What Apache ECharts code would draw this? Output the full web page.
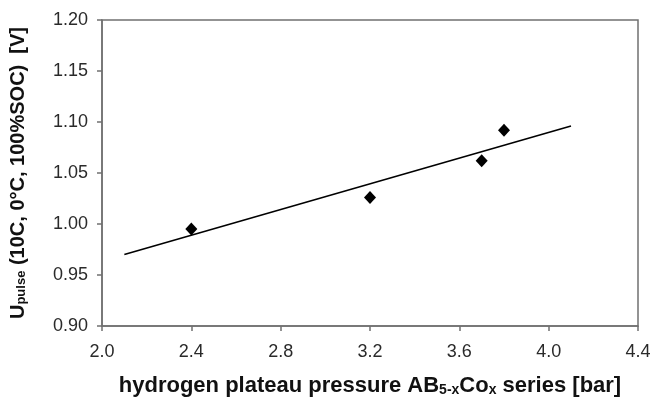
<!DOCTYPE html>
<html>
<head>
<meta charset="utf-8">
<script src="https://cdn.jsdelivr.net/npm/echarts@6/dist/echarts.min.js"></script>
<style>html,body{margin:0;padding:0;background:#fff}#c{width:653px;height:399px}</style>
</head>
<body>
<div id="c"></div>
<script>
// Data
const pressure = [2.4, 3.2, 3.7, 3.8];
const upulse = [0.995, 1.026, 1.062, 1.092];
const trendX = [2.1, 4.1];
const trendY = [0.970, 1.096];
const xTicks = [2.0, 2.4, 2.8, 3.2, 3.6, 4.0, 4.4];
const yTicks = [0.90, 0.95, 1.00, 1.05, 1.10, 1.15, 1.20];

const chart = echarts.init(document.getElementById('c'), null, {renderer: 'canvas'});
const font = 'Liberation Sans, Arial, sans-serif';
const axisLineStyle = {color: '#707070', width: 1.5};
const subX = {fontSize: 14, fontWeight: 'bold', fontFamily: font, color: '#111', verticalAlign: 'bottom', padding: [8, 0, 0, 0]};
const subY = {fontSize: 13, fontWeight: 'bold', fontFamily: font, color: '#111', verticalAlign: 'bottom', padding: [7, 0, 0, 0]};
chart.setOption({
  animation: false,
  backgroundColor: '#fff',
  grid: {left: 102, top: 20, right: 15, bottom: 73, show: true, borderColor: '#707070', borderWidth: 1.5, outerBoundsMode: 'none', containLabel: false},
  xAxis: {
    type: 'value', min: xTicks[0], max: xTicks[xTicks.length - 1], interval: 0.4,
    axisLine: {show: true, lineStyle: axisLineStyle},
    axisTick: {show: true, inside: false, length: 5, lineStyle: axisLineStyle},
    splitLine: {show: false},
    axisLabel: {fontSize: 18, fontFamily: font, color: '#2a2a2a', margin: 17, formatter: v => v.toFixed(1)},
    name: 'hydrogen plateau pressure AB{sub|5-x}Co{sub|x} series [bar]',
    nameLocation: 'middle', nameGap: 49,
    nameTextStyle: {fontSize: 22, fontWeight: 'bold', fontFamily: font, color: '#111', rich: {sub: subX}}
  },
  yAxis: {
    type: 'value', min: yTicks[0], max: yTicks[yTicks.length - 1], interval: 0.05,
    axisLine: {show: true, lineStyle: axisLineStyle},
    axisTick: {show: true, inside: false, length: 5, lineStyle: axisLineStyle},
    splitLine: {show: false},
    axisLabel: {fontSize: 18, fontFamily: font, color: '#2a2a2a', margin: 14, formatter: v => v.toFixed(2)},
    name: 'U{sub|pulse} (10C, 0°C, 100%SOC)  [V]',
    nameLocation: 'middle', nameGap: 74, nameRotate: 90,
    nameTextStyle: {fontSize: 20, fontWeight: 'bold', fontFamily: font, color: '#111', rich: {sub: subY}}
  },
  series: [
    {
      type: 'line', data: trendX.map((x, i) => [x, trendY[i]]),
      symbol: 'none', lineStyle: {color: '#000', width: 1.6}, z: 2
    },
    {
      type: 'scatter', data: pressure.map((x, i) => [x, upulse[i]]),
      symbol: 'diamond', symbolSize: [12, 13], itemStyle: {color: '#000', opacity: 1}, z: 3
    }
  ]
});
</script>
</body>
</html>
